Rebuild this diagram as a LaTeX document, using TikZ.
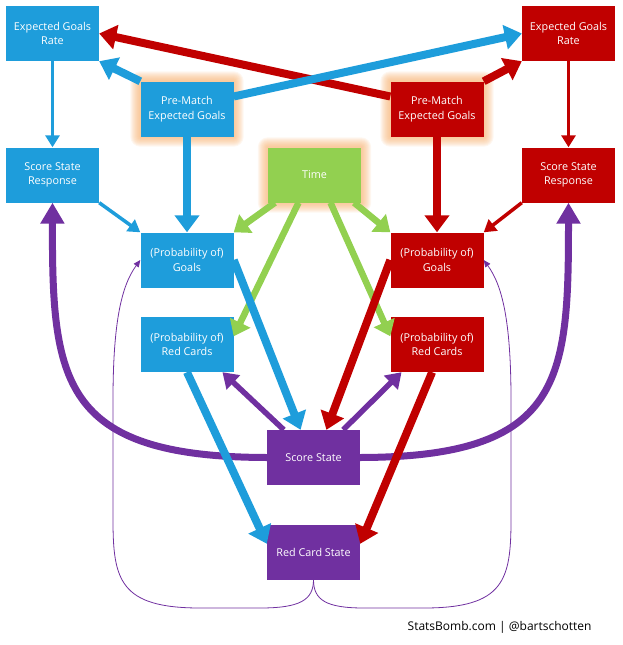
\documentclass[tikz,border=0pt]{standalone}
\usepackage{fontspec}
\setmainfont{Open Sans}
\usepackage{xcolor}
\usepackage{tikz}
\usetikzlibrary{arrows.meta,backgrounds}

\definecolor{sbblau}{RGB}{30,157,219}
\definecolor{sbrot}{RGB}{192,0,0}
\definecolor{sblila}{RGB}{112,48,160}
\definecolor{sbgruen}{RGB}{146,208,80}
\definecolor{sbglow}{RGB}{247,176,110}

\tikzset{
  kasten/.style={minimum width=93pt, minimum height=55pt, inner sep=0pt,
    text=white, align=center, font=\fontsize{10.8}{14.5}\selectfont},
  dick/.style={line width=8pt, -{Triangle[length=17pt,width=24pt]}},
  gruenpfeil/.style={sbgruen, line width=6.5pt, -{Triangle[length=15pt,width=22pt]}},
  mittel/.style={line width=5.5pt, -{Triangle[length=15pt,width=19pt]}},
  fein/.style={line width=3.5pt, -{Triangle[length=12pt,width=14pt]}},
  bogen/.style={sblila, line width=7pt, -{Triangle[length=21pt,width=23pt]}},
  schleife/.style={sblila, line width=0.8pt, -{Triangle[length=7pt,width=6pt]}}
}

\begin{document}
\begin{tikzpicture}[x=1pt,y=-1pt]
\useasboundingbox (0,0) rectangle (623,645);

% Kaesten links (blau)
\node[kasten, fill=sbblau] (begr) at (52.5,33.5) {Expected Goals\\Rate};
\node[kasten, fill=sbblau] (bssr) at (52.5,175) {Score State\\Response};
\node[kasten, fill=sbblau] (bpre) at (187,109) {Pre-Match\\Expected Goals};
\node[kasten, fill=sbblau] (bgoals) at (187,260) {(Probability of)\\Goals};
\node[kasten, fill=sbblau] (bred) at (187,344.5) {(Probability of)\\Red Cards};

% Kaesten rechts (rot)
\node[kasten, fill=sbrot] (regr) at (568.5,33.5) {Expected Goals\\Rate};
\node[kasten, fill=sbrot] (rssr) at (568.5,175) {Score State\\Response};
\node[kasten, fill=sbrot] (rpre) at (437,109) {Pre-Match\\Expected Goals};
\node[kasten, fill=sbrot] (rgoals) at (437,260) {(Probability of)\\Goals};
\node[kasten, fill=sbrot] (rred) at (437,344.5) {(Probability of)\\Red Cards};

% Mitte
\node[kasten, fill=sbgruen] (time) at (314.5,175) {Time};
\node[kasten, fill=sblila] (score) at (313.5,457.5) {Score State};
\node[kasten, fill=sblila] (rcs) at (313.5,552) {Red Card State};

\node[anchor=east, font=\fontsize{12}{14}\selectfont] (credit) at (595,627)
  {StatsBomb.com | @bartschotten};

% Leuchten
\begin{scope}[on background layer]
\foreach \k in {bpre, rpre, time}
  \foreach \i in {1,...,10}
    \fill[sbglow, opacity=0.1, rounded corners=\i pt]
      ([shift={(-\i,-\i)}]\k.north west) rectangle ([shift={(\i,\i)}]\k.south east);
\end{scope}

% Spielstand zurueck
\draw[bogen] (score.west) .. controls (60,457) and (52,380) .. (bssr.south);
\draw[bogen] (score.east) .. controls (563,457) and (568.5,380) .. (rssr.south);

\draw[schleife] (rcs.south) .. controls (313.5,600) and (300,608) .. (260,608)
  -- (200,608) .. controls (120,608) and (113,580) .. (113,520)
  -- (113,400) .. controls (113,320) and (122,285) .. (bgoals.west);
\draw[schleife] (rcs.south) .. controls (313.5,600) and (326,608) .. (364,608)
  -- (424,608) .. controls (504,608) and (511,580) .. (511,520)
  -- (511,400) .. controls (511,320) and (502,285) .. (rgoals.east);

% Erwartete Tore
\draw[dick, sbrot] (rpre.165) -- (begr.east);
\draw[dick, sbblau] (bpre.15) -- (regr.west);
\draw[dick, sbblau] (bpre.north west) -- (begr.south east);
\draw[dick, sbrot] (rpre.north east) -- (regr.south west);
\draw[fein, sbblau] (begr) -- (bssr);
\draw[fein, sbrot] (regr) -- (rssr);
\draw[dick, sbblau] (bpre) -- (bgoals);
\draw[dick, sbrot] (rpre) -- (rgoals);
\draw[fein, sbblau] (bssr.south east) -- (bgoals.north west);
\draw[fein, sbrot] (rssr.south west) -- (rgoals.north east);

% Zeit
\draw[gruenpfeil] (time.-145) -- (bgoals.north east);
\draw[gruenpfeil] (time.-120) -- (bred.10);
\draw[gruenpfeil] (time.-60) -- (rred.170);
\draw[gruenpfeil] (time.-35) -- (rgoals.north west);

% Spielstand und Karten
\draw[mittel, sblila] (score.137) -- (bred.-38);
\draw[mittel, sblila] (score.43) -- (rred.-142);
\draw[dick, sbblau] (bgoals.east) -- (score.115);
\draw[dick, sbrot] (rgoals.west) -- (score.65);
\draw[dick, sbblau] (bred.south) -- (rcs.170);
\draw[dick, sbrot] (rred.-100) -- (rcs.10);
\end{tikzpicture}
\end{document}
